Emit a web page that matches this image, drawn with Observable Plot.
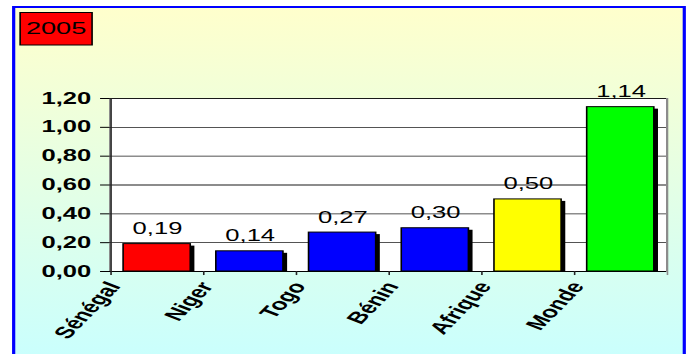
<!DOCTYPE html>
<html>
<head>
<meta charset="utf-8">
<script src="https://cdn.jsdelivr.net/npm/d3@7"></script>
<script src="https://cdn.jsdelivr.net/npm/@observablehq/plot@0.6"></script>
<style>
  html, body { margin: 0; padding: 0; background: #ffffff; }
  #chart { width: 689px; height: 354px; overflow: hidden; }
</style>
</head>
<body>
<div id="chart"></div>
<script>
// Data
const categories = ["Sénégal", "Niger", "Togo", "Bénin", "Afrique", "Monde"];
const values = [0.19, 0.14, 0.27, 0.30, 0.50, 1.14];
const barColors = ["#FF0000", "#0000FF", "#0000FF", "#0000FF", "#FFFF00", "#00FF00"];
const yTicks = [0, 0.2, 0.4, 0.6, 0.8, 1.0, 1.2];
const yearLabel = "2005";

const rows = categories.map((c, i) => ({cat: c, value: values[i], color: barColors[i]}));

// French number format: comma as decimal separator
const fr = d3.formatLocale({decimal: ",", thousands: " ", grouping: [3], currency: ["", " €"]});
const fmt = fr.format(".2f");

// The chart is laid out on a narrow canvas and stretched horizontally to its final width
const OUT_W = 689, H = 354;
const W = 431;
const S = OUT_W / W;
const mL = 109 / S, mR = W - 666 / S, mT = 98, mB = 83;
const step = (W - mL - mR) / categories.length;
const tickLen = -0.028; // short tick below the baseline (in y units)

const font = "'Liberation Sans', Arial, Helvetica, sans-serif";

const svg = Plot.plot({
  width: W,
  height: H,
  marginLeft: mL,
  marginRight: mR,
  marginTop: mT,
  marginBottom: mB,
  style: {background: "transparent", fontFamily: font, overflow: "visible"},
  x: {domain: categories, paddingInner: 0.28, paddingOuter: 0.14, axis: null},
  y: {domain: [0, 1.2], axis: null},
  color: {type: "identity"},
  marks: [
    Plot.frame({fill: "white", stroke: "#8c8c8c"}),
    Plot.ruleY(yTicks.filter(d => d > 0), {stroke: "#1a1a1a", strokeWidth: 0.9}),
    // drop shadows
    Plot.barY(rows, {x: "cat", y: "value", fill: "black", dx: 2.6, dy: 2, clip: true}),
    Plot.barY(rows, {x: "cat", y: "value", fill: "color", stroke: "black", strokeWidth: 1}),
    Plot.text(rows, {x: "cat", y: "value", text: d => fmt(d.value), dy: -10, lineAnchor: "bottom", fontSize: 16, fill: "black"}),
    // baseline, y-axis line, right border and category separators
    Plot.ruleY([0], {stroke: "black", strokeWidth: 1}),
    Plot.ruleX([categories[0]], {dx: -step / 2, y1: tickLen, y2: 1.2, stroke: "#222", strokeWidth: 1}),
    Plot.ruleX(categories.slice(1), {dx: -step / 2, y1: 0, y2: tickLen, stroke: "#222", strokeWidth: 1}),
    Plot.ruleX([categories[categories.length - 1]], {dx: step / 2, y1: tickLen, y2: 1.2, stroke: "#8c8c8c", strokeWidth: 1}),
    Plot.axisY(yTicks, {tickFormat: fmt, tickSize: 5.6, tickPadding: 6, fontSize: 16, fontWeight: "bold", label: null}),
    Plot.axisX({tickSize: 0, tickPadding: 0, tickRotate: -58, fontSize: 16.5, fontWeight: "bold", dx: -27, dy: 12, label: null})
  ]
});

// Stretch the drawing to its full width
svg.setAttribute("width", OUT_W);
svg.setAttribute("height", H);
svg.setAttribute("viewBox", `0 0 ${W} ${H}`);
svg.setAttribute("preserveAspectRatio", "none");
svg.style.width = OUT_W + "px";
svg.style.height = H + "px";
svg.style.maxWidth = "none";

// Panel background gradient and blue border, title box
const root = d3.select(svg);
const defs = root.insert("defs", ":first-child");
const grad = defs.append("linearGradient")
  .attr("id", "panel-bg").attr("x1", 0).attr("y1", 0).attr("x2", 0).attr("y2", 1);
grad.append("stop").attr("offset", "0%").attr("stop-color", "#FFFFCC");
grad.append("stop").attr("offset", "100%").attr("stop-color", "#C8FFFF");

root.insert("rect", "defs + *")
  .attr("x", 8.55).attr("y", 7)
  .attr("width", 419.5).attr("height", 362)
  .attr("fill", "url(#panel-bg)")
  .attr("stroke", "#0000FF").attr("stroke-width", 2);

const badge = root.append("g");
badge.append("rect")
  .attr("x", 12.6).attr("y", 12.5).attr("width", 45).attr("height", 32.5)
  .attr("fill", "#FF0000").attr("stroke", "black").attr("stroke-width", 1);
badge.append("text")
  .attr("x", 35.1).attr("y", 34)
  .attr("text-anchor", "middle")
  .attr("font-family", font).attr("font-size", 17).attr("fill", "black")
  .text(yearLabel);

document.getElementById("chart").appendChild(svg);
</script>
</body>
</html>
